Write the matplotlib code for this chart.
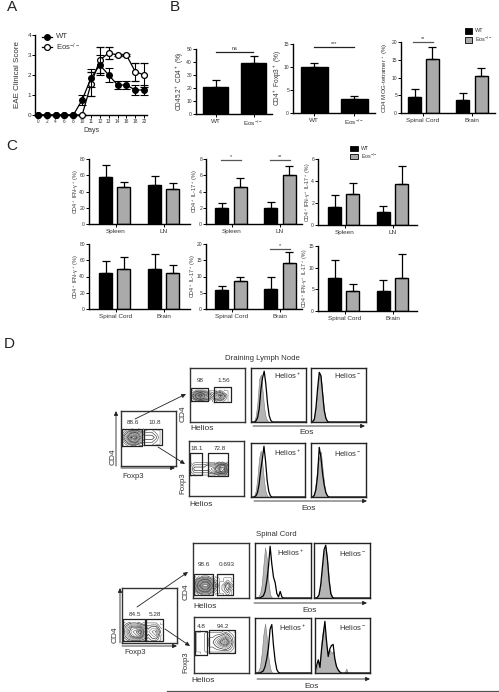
import numpy as np
from matplotlib import pyplot as plt

plt.rcParams["font.family"] = ["Liberation Sans", "DejaVu Sans"]
plt.rcParams["mathtext.default"] = "regular"
plt.rcParams["mathtext.fontset"] = "custom"
plt.rcParams["mathtext.rm"] = "Liberation Sans"

W, H = 499, 692
TXT = "#333333"
GREY = "#aaaaaa"

# panel A
days = ["0", "2", "4", "6", "8", "10", "11", "12", "13", "14", "16", "18", "20"]
wt_score = [0, 0, 0, 0, 0, 0.75, 1.85, 2.5, 2.0, 1.5, 1.5, 1.25, 1.25]
wt_err = [0, 0, 0, 0, 0, 0.25, 0.45, 0.5, 0.35, 0.2, 0.2, 0.25, 0.25]
eos_score = [0, 0, 0, 0, 0, 0, 1.55, 2.75, 3.1, 3.0, 3.0, 2.17, 2.0]
eos_err = [0, 0, 0, 0, 0, 0, 0.6, 0.65, 0.32, 0.05, 0.05, 0.45, 0.6]

# panel B
b1_vals, b1_err = [21, 39], [5.5, 5.5]
b2_vals, b2_err = [10, 3], [0.8, 0.8]
b3_vals, b3_err = [4.5, 15.3, 3.8, 10.5], [2.2, 3.3, 1.7, 2.3]

# panel C
c1_vals, c1_err = [58, 45, 48, 43.5], [14.5, 7, 11, 7]
c2_vals, c2_err = [2, 4.5, 2, 6], [0.55, 1.2, 0.7, 1.2]
c3_vals, c3_err = [1.65, 2.85, 1.2, 3.7], [1.05, 1, 0.5, 1.65]
c4_vals, c4_err = [44.5, 49, 49.5, 44.5], [15, 15.5, 18, 9.5]
c5_vals, c5_err = [6, 8.5, 6.3, 14.2], [1, 1.4, 3.4, 3.2]
c6_vals, c6_err = [7.6, 4.5, 4.7, 7.7], [4.2, 1.7, 2.4, 5.5]

# panel D histograms, % of panel height at each Eos bin
eos_bins = [0, 3, 6, 9, 12, 15, 18, 21, 24, 27, 30, 33, 36, 39, 42, 45, 48, 51, 54, 57, 60, 100]
top_a_fill = [0, 0, 2, 12, 40, 80, 88, 58, 25, 8, 2, 0, 0, 0, 0, 0, 0, 0, 0, 0, 0, 0]
top_a_line = [0, 0, 0, 2, 8, 25, 60, 82, 94, 70, 35, 12, 3, 0, 0, 0, 0, 0, 0, 0, 0, 0]
top_b_fill = [0, 1, 6, 30, 66, 90, 84, 50, 20, 6, 1, 0, 0, 0, 0, 0, 0, 0, 0, 0, 0, 0]
top_b_line = [0, 1, 5, 26, 62, 92, 86, 54, 22, 7, 1, 0, 0, 0, 0, 0, 0, 0, 0, 0, 0, 0]
top_c_fill = [0, 0, 3, 12, 38, 72, 86, 62, 30, 10, 2, 0, 0, 0, 0, 0, 0, 0, 0, 0, 0, 0]
top_c_line = [0, 0, 0, 2, 8, 24, 50, 70, 94, 66, 30, 10, 2, 0, 0, 0, 0, 0, 0, 0, 0, 0]
top_d_fill = [0, 1, 8, 30, 62, 74, 84, 52, 24, 8, 2, 0, 0, 0, 0, 0, 0, 0, 0, 0, 0, 0]
top_d_line = [0, 0, 3, 14, 40, 92, 74, 44, 22, 8, 2, 0, 0, 0, 0, 0, 0, 0, 0, 0, 0, 0]
low_a_fill = [0, 1, 3, 8, 24, 60, 92, 72, 30, 6, 1, 0, 0, 0, 0, 0, 0, 0, 0, 0, 0, 0]
low_a_line = [0, 0, 0, 0, 2, 4, 12, 30, 56, 94, 62, 38, 28, 8, 2, 12, 2, 0, 0, 0, 0, 0]
low_b_fill = [0, 0, 2, 8, 28, 60, 86, 92, 66, 30, 8, 2, 0, 0, 0, 0, 0, 0, 0, 0, 0, 0]
low_b_line = [0, 0, 1, 6, 24, 56, 88, 96, 70, 32, 8, 1, 0, 0, 0, 0, 0, 0, 0, 0, 0, 0]
low_c_fill = [0, 1, 4, 12, 36, 70, 90, 64, 28, 8, 1, 0, 0, 0, 0, 0, 0, 0, 0, 0, 0, 0]
low_c_line = [0, 0, 0, 0, 2, 4, 12, 26, 46, 80, 88, 50, 22, 6, 1, 0, 0, 0, 0, 0, 0, 0]
low_d_fill = [0, 8, 22, 18, 60, 82, 72, 46, 34, 42, 36, 40, 22, 10, 4, 2, 0, 0, 1, 8, 0, 0]
low_d_line = [0, 14, 24, 10, 44, 70, 94, 58, 30, 44, 50, 52, 26, 12, 6, 2, 0, 0, 0, 0, 0, 0]

# panel D flow density blobs
top_cd4_blob = [[0, 1, 2, 2, 1, 1, 1, 1, 0, 0], [1, 3, 6, 7, 4, 2, 2, 2, 1, 0], [2, 5, 9, 10, 6, 3, 3, 3, 2, 0],
                [1, 3, 6, 7, 4, 2, 2, 2, 1, 0], [0, 1, 1, 2, 1, 0, 1, 1, 0, 0]]
top_hel_blob = [[0, 1, 2, 1, 1, 0, 1, 2, 1, 0], [1, 5, 8, 5, 3, 1, 3, 5, 2, 0], [2, 7, 10, 6, 4, 2, 4, 6, 3, 0],
                [1, 4, 6, 3, 2, 1, 2, 3, 1, 0], [0, 1, 1, 1, 0, 0, 0, 1, 0, 0]]
top_fox_blob = [[0, 1, 1, 1, 1, 1, 1, 1, 2, 3, 3, 1], [1, 2, 2, 2, 2, 2, 3, 4, 6, 9, 8, 2], [1, 3, 3, 3, 3, 3, 4, 5, 7, 10, 9, 3],
                [1, 2, 2, 2, 2, 3, 3, 3, 5, 8, 8, 3], [0, 1, 1, 1, 1, 1, 1, 1, 2, 3, 2, 1]]
low_cd4_blob = [[1, 2, 3, 3, 3, 2, 1, 2, 2, 1], [2, 4, 6, 7, 8, 4, 2, 3, 4, 1], [2, 5, 7, 8, 10, 5, 3, 4, 5, 2],
                [2, 4, 6, 6, 6, 4, 2, 3, 3, 1], [1, 2, 3, 3, 2, 1, 1, 1, 1, 0]]
low_hel_blob = [[0, 1, 2, 2, 1, 0, 0, 0, 1, 0], [1, 4, 6, 6, 3, 1, 0, 1, 2, 0], [2, 6, 9, 9, 5, 2, 0, 1, 3, 1],
                [1, 4, 6, 6, 3, 1, 0, 0, 1, 0], [0, 1, 2, 2, 1, 0, 0, 0, 0, 0]]
low_fox_blob = [[0, 0, 1, 1, 1, 1, 1, 1, 1, 0], [0, 1, 1, 2, 2, 3, 4, 5, 3, 1], [0, 1, 1, 2, 3, 5, 8, 10, 5, 1],
                [0, 1, 1, 2, 2, 3, 4, 6, 3, 1], [0, 0, 1, 1, 1, 1, 1, 2, 1, 0]]

fig = plt.figure(figsize=(W / 100, H / 100), dpi=100)


def px_axes(x0, y_top, x1, y_bot, zorder=1):
	return fig.add_axes([x0 / W, 1 - y_bot / H, (x1 - x0) / W, (y_bot - y_top) / H], zorder=zorder)


def style_axes(ax, lw=1.0):
	ax.spines["top"].set_visible(False)
	ax.spines["right"].set_visible(False)
	ax.spines["left"].set_linewidth(lw)
	ax.spines["bottom"].set_linewidth(lw)
	ax.patch.set_alpha(0)


def bar_panel(box, vals, err, colors, centers, width, ymax, yticks, ylabel, ylabel_x, ylabel_size, labels, label_x):
	x0, y_top, x1, y_bot = box
	ax = px_axes(x0, y_top, x1, y_bot)
	style_axes(ax)
	ax.bar(centers, vals, width, color=colors, edgecolor="black", linewidth=1.0)
	ax.errorbar(centers, vals, yerr=[[0] * len(err), err], fmt="none", ecolor="black", elinewidth=0.9, capsize=2.8, capthick=0.9)
	ax.set_xlim(x0, x1)
	ax.set_ylim(0, ymax)
	ax.set_yticks(yticks)
	ax.set_xticks(label_x, labels=labels)
	ax.tick_params(axis="y", labelsize=3.6, length=2, width=0.7, pad=0.8, labelcolor=TXT)
	ax.tick_params(axis="x", labelsize=4.6, length=2, width=0.7, pad=1.5, labelcolor=TXT)
	label(ylabel_x, (y_top + y_bot) / 2, ylabel, ylabel_size, rotation=90)
	return ax


def sig_bar(x0, x1, y, text, lw=0.9, color="#222222"):
	over.plot([x0, x1], [y, y], color=color, lw=lw)
	over.text((x0 + x1) / 2, y - 3, text, fontsize=4, ha="center", va="center", color=TXT)


def smooth_grid(grid):
	# upsample the hand read grid a bit so the contours do not look blocky
	g = np.kron(np.array(grid, dtype=float), np.ones((5, 5)))
	kernel = np.ones(5) / 5
	g = np.apply_along_axis(lambda r: np.convolve(r, kernel, mode="same"), 0, g)
	g = np.apply_along_axis(lambda r: np.convolve(r, kernel, mode="same"), 1, g)
	return g


def flow_panel(box, blob, extent, gates, levels=14):
	x0, y_top, x1, y_bot = box
	ax = px_axes(x0, y_top, x1, y_bot)
	ax.set_xlim(0, 100)
	ax.set_ylim(0, 100)
	ax.set_xticks([])
	ax.set_yticks([])
	for s in ax.spines.values():
		s.set_linewidth(1.0)
		s.set_color("#333333")
	g = smooth_grid(blob)
	xs = np.linspace(extent[0], extent[1], g.shape[1])
	ys = np.linspace(extent[2], extent[3], g.shape[0])
	ax.contour(xs, ys, g, levels=levels, colors=["#888888", "#666666", "#444444", "#222222"], linewidths=0.45)
	for gx0, gy0, gx1, gy1 in gates:
		ax.plot([gx0, gx1, gx1, gx0, gx0], [gy0, gy0, gy1, gy1, gy0], color="#222222", lw=0.9)
	return ax


def hist_panel(box, fill, line):
	x0, y_top, x1, y_bot = box
	ax = px_axes(x0, y_top, x1, y_bot)
	ax.fill_between(eos_bins, fill, 0, color="#b5b5b5", lw=0.4, edgecolor="#777777")
	ax.plot(eos_bins, line, color="black", lw=0.9)
	ax.set_xlim(0, 100)
	ax.set_ylim(0, 100)
	ax.set_xticks([])
	ax.set_yticks([])
	for s in ax.spines.values():
		s.set_linewidth(1.0)
		s.set_color("#222222")
	return ax


# overlay for letters, arrows and loose labels, in pixel coordinates
over = fig.add_axes([0, 0, 1, 1], zorder=5)
over.set_xlim(0, W)
over.set_ylim(H, 0)
over.axis("off")


def label(x, y, s, size=6, rotation=0, color=TXT):
	over.text(x, y, s, fontsize=size, ha="center", va="center", rotation=rotation, color=color)


def arrow(x0, y0, x1, y1, lw=0.6):
	over.annotate("", xy=(x1, y1), xytext=(x0, y0),
		arrowprops=dict(arrowstyle="-|>,head_length=0.25,head_width=0.12", lw=lw, color="#222222", shrinkA=0, shrinkB=0))


for x, y, s in [(12, 7, "A"), (175, 7, "B"), (12, 146, "C"), (9, 344, "D")]:
	label(x, y, s, size=11, color="#222222")

# A
ax = px_axes(35, 35, 147, 115)
style_axes(ax)
pos = list(range(len(days)))
ax.errorbar(pos, eos_score, yerr=eos_err, color="black", lw=0.9, marker="o", ms=4.2, mfc="white", mec="black", mew=0.9, capsize=2.6, capthick=0.8, elinewidth=0.8, clip_on=False, zorder=3)
ax.errorbar(pos, wt_score, yerr=wt_err, color="black", lw=0.9, marker="o", ms=4.0, mfc="black", mec="black", capsize=2.6, capthick=0.8, elinewidth=0.8, clip_on=False, zorder=4)
ax.set_xlim(-0.33, 12.33)
ax.set_ylim(0, 4)
ax.set_yticks([0, 1, 2, 3, 4])
ax.set_xticks(pos, labels=days)
ax.tick_params(axis="y", labelsize=4.6, length=2, width=0.7, pad=0.8, labelcolor=TXT)
ax.tick_params(axis="x", labelsize=3.4, length=2, width=0.7, pad=1.2, labelcolor=TXT)
ax.set_xlabel("Days", fontsize=5, color=TXT, labelpad=1.5)
label(18, 75, "EAE Clinical Score", 5.8, rotation=90)
over.plot([42, 52], [37, 37], color="black", lw=0.9)
over.plot([47], [37], marker="o", ms=4.0, color="black")
over.plot([42, 52], [47, 47], color="black", lw=0.9)
over.plot([47], [47], marker="o", ms=4.2, mfc="white", mec="black", mew=0.9)
over.text(56, 37, "WT", fontsize=5.6, va="center", color=TXT)
over.text(56, 47.5, "Eos$^{-/-}$", fontsize=5.6, va="center", color=TXT)

# B
bar_panel((196, 49, 272, 114), b1_vals, b1_err, ["black", "black"], [215.5, 253.5], 25, 50, [0, 10, 20, 30, 40, 50],
	"CD45.2$^+$ CD4$^+$ (%)", 180, 4.7, ["WT", "Eos$^{-/-}$"], [215.5, 253.5])
bar_panel((293, 44, 375, 113), b2_vals, b2_err, ["black", "black"], [314, 354], 27, 15, [0, 5, 10, 15],
	"CD4$^+$ Foxp3$^+$ (%)", 278, 4.7, ["WT", "Eos$^{-/-}$"], [314, 354])
bar_panel((401, 42, 495, 113), b3_vals, b3_err, ["black", GREY, "black", GREY], [414.5, 432, 462.5, 481], 13, 20, [0, 5, 10, 15, 20],
	"CD4 MOG-tetramer$^+$ (%)", 385, 4.4, ["Spinal Cord", "Brain"], [423, 472])
sig_bar(216, 253, 52, "ns")
sig_bar(314, 354, 47, "***")
sig_bar(413, 433, 42, "**", color="#555555")
over.add_patch(plt.Rectangle((465, 28), 7.5, 5.5, fc="black", ec="black", lw=0.6))
over.add_patch(plt.Rectangle((465, 37), 7.5, 5.5, fc=GREY, ec="black", lw=0.6))
over.text(475, 30.5, "WT", fontsize=4, va="center", color=TXT)
over.text(475, 39.5, "Eos$^{-/-}$", fontsize=4, va="center", color=TXT)

# C
fills = ["black", GREY, "black", GREY]
IFN = "CD4$^+$ IFN-γ$^+$ (%)"
IL = "CD4$^+$ IL-17$^+$ (%)"
DP = "CD4$^+$ IFN-γ$^+$ IL-17$^+$ (%)"
sp_ln = ["Spleen", "LN"]
sc_br = ["Spinal Cord", "Brain"]
bar_panel((89, 159, 190, 224), c1_vals, c1_err, fills, [105.5, 123.5, 154.5, 172.5], 13, 80, [0, 20, 40, 60, 80], IFN, 76, 3.9, sp_ln, [116, 164])
bar_panel((206, 159, 302, 224), c2_vals, c2_err, fills, [221.5, 240, 270.5, 289], 13, 8, [0, 2, 4, 6, 8], IL, 195, 3.9, sp_ln, [232, 280])
bar_panel((318, 159, 417, 225), c3_vals, c3_err, fills, [334.5, 352.5, 383, 401.5], 13, 6, [0, 2, 4, 6], DP, 308, 3.7, sp_ln, [345, 393])
bar_panel((89, 244, 190, 309), c4_vals, c4_err, fills, [105.5, 123.5, 154.5, 172.5], 13, 80, [0, 20, 40, 60, 80], IFN, 76, 3.9, sc_br, [116, 164])
bar_panel((206, 244, 302, 309), c5_vals, c5_err, fills, [221.5, 240, 270.5, 289], 13, 20, [0, 5, 10, 15, 20], IL, 193, 3.9, sc_br, [232, 280])
bar_panel((318, 246, 417, 311), c6_vals, c6_err, fills, [334.5, 352.5, 383, 401.5], 13, 15, [0, 5, 10, 15], DP, 305, 3.7, sc_br, [345, 393])
sig_bar(221, 241, 160, "*", color="#555555")
sig_bar(270, 290, 160, "**", color="#555555")
sig_bar(270, 290, 249, "*", color="#555555")
over.add_patch(plt.Rectangle((350, 145.5), 8, 5, fc="black", ec="black", lw=0.6))
over.add_patch(plt.Rectangle((350, 153.5), 8, 5, fc=GREY, ec="black", lw=0.6))
over.text(361, 148, "WT", fontsize=3.8, va="center", color=TXT)
over.text(361, 156, "Eos$^{-/-}$", fontsize=3.8, va="center", color=TXT)

# D, draining lymph node
label(262, 358, "Draining Lymph Node", size=5.6)
flow_panel((121, 411, 176, 466), top_cd4_blob, (1, 74, 36, 68), [(1, 37, 39, 67), (41, 38, 75, 67)])
flow_panel((190, 368, 245, 422), top_hel_blob, (2, 72, 38, 60), [(2, 38, 33, 63), (43, 37, 74, 64)])
flow_panel((189, 441, 244, 496), top_fox_blob, (2, 72, 37, 62), [(2, 38, 24, 79), (35, 37, 71, 78)])
hist_panel((251, 368, 306, 422), top_a_fill, top_a_line)
hist_panel((311, 368, 366, 422), top_b_fill, top_b_line)
hist_panel((251, 443, 305, 497), top_c_fill, top_c_line)
hist_panel((311, 443, 366, 497), top_d_fill, top_d_line)
label(133, 423, "88.6", 4.6)
label(155, 423, "10.8", 4.6)
label(200, 381, "98", 4.6)
label(224, 381, "1.56", 4.6)
label(197, 448, "18.1", 4.6)
label(220, 448, "72.8", 4.6)
label(113, 457, "CD4", 6, rotation=90)
label(133, 476, "Foxp3", 5.6)
label(183, 414, "CD4", 6, rotation=90)
label(202, 429, "Helios", 6)
label(183, 483, "Foxp3", 5.6, rotation=90)
label(201, 504, "Helios", 6)
label(288, 376, "Helios$^+$", 5.6)
label(348, 376, "Helios$^-$", 5.6)
label(288, 453, "Helios$^+$", 5.6)
label(348, 453, "Helios$^-$", 5.6)
label(307, 433, "Eos", 6)
label(309, 508, "Eos", 6)
arrow(116, 466, 116, 411)
arrow(121, 468, 175, 468)
arrow(135, 419, 186, 394)
arrow(158, 447, 185, 464)
arrow(253, 426, 365, 426)
arrow(254, 501, 367, 501)

# D, spinal cord
label(276, 534, "Spinal Cord", size=5.6)
flow_panel((122, 588, 177, 643), low_cd4_blob, (1, 72, 3, 38), [(1, 4, 42, 43), (44, 4, 75, 43)])
flow_panel((193, 543, 249, 598), low_hel_blob, (1, 72, 5, 40), [(1, 5, 35, 43), (42, 5, 72, 43)])
flow_panel((194, 617, 249, 673), low_fox_blob, (1, 76, 34, 76), [(2, 33, 23, 75), (27, 35, 75, 76)], levels=10)
hist_panel((255, 543, 311, 598), low_a_fill, low_a_line)
hist_panel((314, 543, 370, 598), low_b_fill, low_b_line)
hist_panel((255, 618, 311, 673), low_c_fill, low_c_line)
hist_panel((315, 618, 370, 673), low_d_fill, low_d_line)
label(135, 614, "84.5", 4.6)
label(155, 614, "5.28", 4.6)
label(204, 565, "98.6", 4.6)
label(227, 565, "0.693", 4.6)
label(201, 627, "4.8", 4.6)
label(223, 627, "94.2", 4.6)
label(115, 635, "CD4", 6, rotation=90)
label(135, 653, "Foxp3", 5.6)
label(186, 592, "CD4", 6, rotation=90)
label(205, 607, "Helios", 6)
label(186, 662, "Foxp3", 5.6, rotation=90)
label(203, 681, "Helios", 6)
label(291, 553, "Helios$^+$", 5.6)
label(353, 553, "Helios$^-$", 5.6)
label(293, 628, "Helios$^+$", 5.6)
label(353, 628, "Helios$^-$", 5.6)
label(310, 610, "Eos", 6)
label(312, 686, "Eos", 6)
arrow(120, 643, 120, 588)
arrow(122, 646, 177, 646)
arrow(137, 607, 188, 572)
arrow(165, 629, 190, 646)
arrow(254, 603, 367, 603)
arrow(257, 679, 370, 679)
over.plot([167, 499], [691, 691], color="#555555", lw=0.9)

fig.savefig("out.png", dpi=100)
plt.close()
